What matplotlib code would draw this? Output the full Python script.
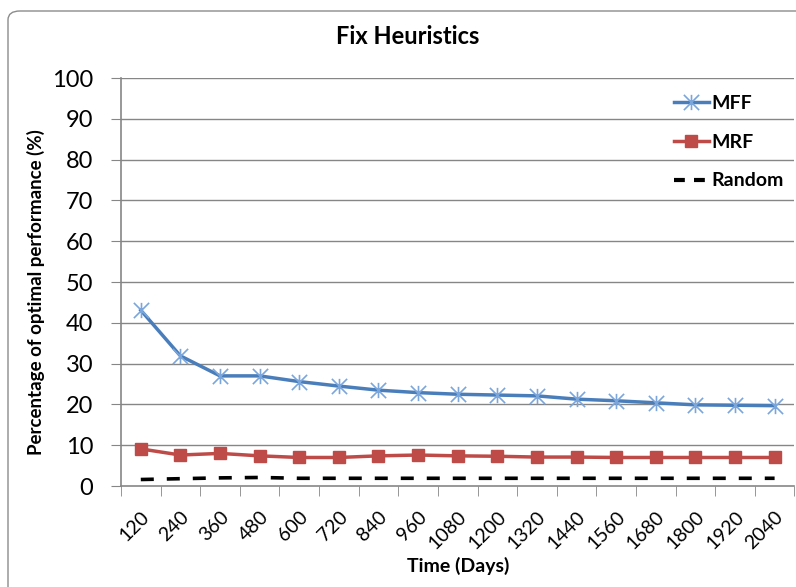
import numpy as np
import matplotlib.pyplot as plt
import matplotlib.transforms as mtransforms
from matplotlib.patches import FancyBboxPatch
from matplotlib.lines import Line2D
from matplotlib.path import Path

plt.rcParams['font.family'] = ['Lato', 'DejaVu Sans']

# ----------------------------
# Data
# ----------------------------
days = ['120', '240', '360', '480', '600', '720', '840', '960', '1080',
        '1200', '1320', '1440', '1560', '1680', '1800', '1920', '2040']
mff = [43.1, 31.9, 27.0, 27.0, 25.6, 24.5, 23.5, 22.9, 22.5,
       22.3, 22.1, 21.3, 20.9, 20.4, 19.9, 19.8, 19.7]
mrf = [9.1, 7.6, 8.0, 7.4, 7.0, 7.0, 7.4, 7.6, 7.4,
       7.3, 7.1, 7.1, 7.0, 7.0, 7.0, 7.0, 7.0]
rnd = [1.6, 1.8, 2.0, 2.1, 1.9, 1.9, 1.9, 1.9, 1.9,
       1.9, 1.9, 1.9, 1.9, 1.9, 1.9, 1.9, 1.9]

x = np.arange(len(days))

# Excel style star marker: an X with a vertical bar through it
star = Path([(0, -1), (0, 1), (-1, -1), (1, 1), (-1, 1), (1, -1)],
            [Path.MOVETO, Path.LINETO, Path.MOVETO, Path.LINETO, Path.MOVETO, Path.LINETO])

blue = '#4a7ebb'
blue_mk = '#7ba6dc'
red = '#be4b48'
grid_col = '#868686'

# ----------------------------
# Plot
# ----------------------------
fig = plt.figure(figsize=(7.96, 5.87), dpi=100)
ax = fig.add_axes([0.152, 0.172, 0.846, 0.695])

for v in range(10, 101, 10):
    ax.axhline(v, color=grid_col, lw=1.0, zorder=0)

ax.plot(x, mff, color=blue, lw=2.5, marker=star, markersize=11,
        markeredgecolor=blue_mk, markeredgewidth=1.2, label='MFF', zorder=3)
ax.plot(x, mrf, color=red, lw=2.5, marker='s', markersize=8.5,
        markerfacecolor=red, markeredgecolor=red, label='MRF', zorder=3)
ax.plot(x, rnd, color='black', lw=2.6, dashes=(3.6, 3.6), label='Random', zorder=3)

ax.set_xlim(-0.5, len(days) - 0.5)
ax.set_ylim(0, 100)
ax.set_yticks(range(0, 101, 10))
ax.tick_params(axis='y', labelsize=17, length=7, color=grid_col, pad=13)

ax.set_xticks(x)
ax.set_xticklabels(days, rotation=45, fontsize=14, ha='right', va='center',
                   rotation_mode='anchor')
ax.tick_params(axis='x', which='major', length=0, pad=19)
ax.set_xticks(np.arange(-0.5, len(days), 1.0), minor=True)
ax.tick_params(axis='x', which='minor', length=7, color=grid_col)

# nudge rotated labels so their ends sit under the category like Excel does
shift = mtransforms.ScaledTranslation(6 / 100, -2 / 100, fig.dpi_scale_trans)
for lbl in ax.get_xticklabels():
    lbl.set_transform(lbl.get_transform() + shift)

for s in ['top', 'right']:
    ax.spines[s].set_visible(False)
for s in ['left', 'bottom']:
    ax.spines[s].set_color(grid_col)
    ax.spines[s].set_linewidth(1.2)

fig.text(36 / 796, 1 - 292 / 587, 'Percentage of optimal performance (%)',
         rotation=90, ha='center', va='center', fontsize=13.5, fontweight='bold')
fig.text(458 / 796, 1 - 566 / 587, 'Time (Days)', ha='center', va='center',
         fontsize=14, fontweight='bold')
fig.text(408 / 796, 1 - 36 / 587, 'Fix Heuristics', ha='center', va='center',
         fontsize=17, fontweight='bold')

handles = [
    Line2D([], [], color=blue, lw=2.5, marker=star, markersize=11,
           markeredgecolor=blue_mk, markeredgewidth=1.2),
    Line2D([], [], color=red, lw=2.5, marker='s', markersize=8.5),
    Line2D([], [], color='black', lw=3.0, dashes=(2.6, 2.2)),
]
ax.legend(handles, ['MFF', 'MRF', 'Random'], loc='upper left',
          bbox_to_anchor=(0.809, 0.978), frameon=False,
          prop={'weight': 'bold', 'size': 14}, handlelength=1.8,
          handletextpad=0.15, labelspacing=1.12, borderaxespad=0)

# chart area border (only top and left are inside the picture)
border = FancyBboxPatch((8 / 796, -0.05), 1.1, 1.05 - 11 / 587,
                        boxstyle='round,pad=0,rounding_size=0.015',
                        transform=fig.transFigure, fill=False,
                        edgecolor='#8c8c8c', lw=1.0)
fig.patches.append(border)

plt.savefig('out.png', dpi=100)
